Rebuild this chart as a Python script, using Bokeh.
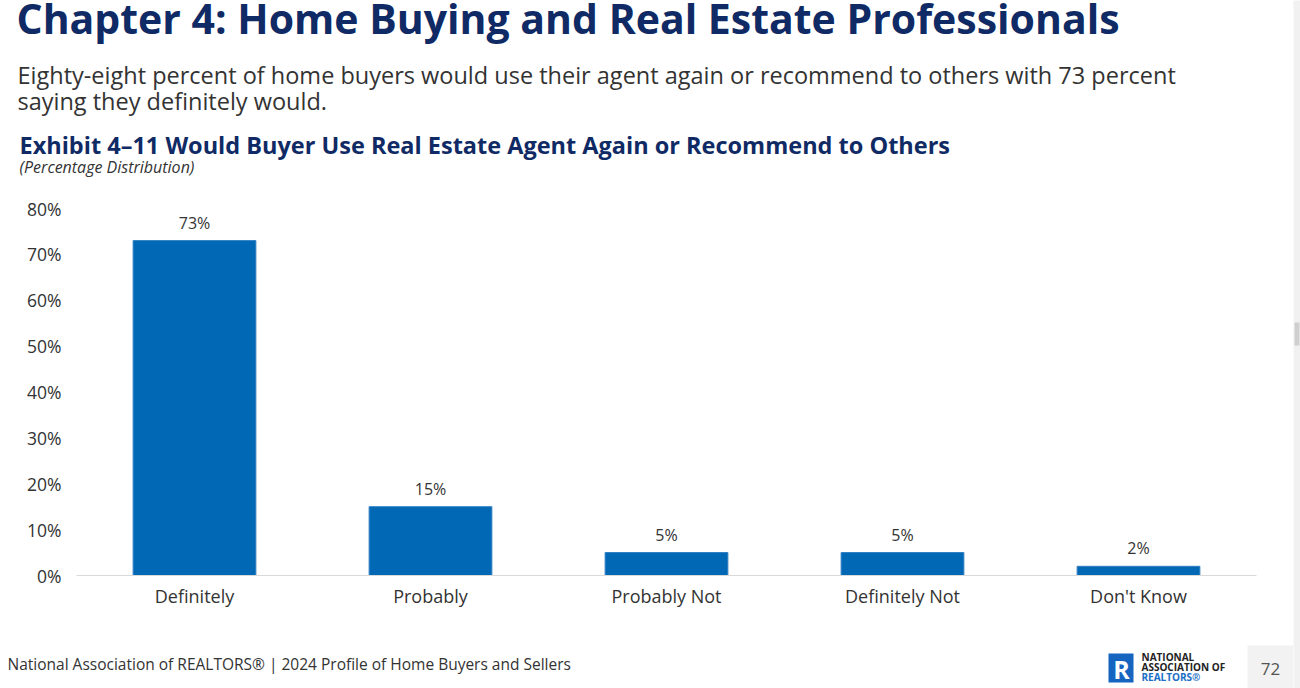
from bokeh.plotting import figure
from bokeh.layouts import column, row
from bokeh.models import (ColumnDataSource, Label, LabelSet, FixedTicker,
                          PrintfTickFormatter, BoxAnnotation, Range1d)
from bokeh.core.properties import value
from bokeh.embed import file_html
from bokeh.resources import INLINE

categories = ["Definitely", "Probably", "Probably Not", "Definitely Not", "Don't Know"]
values = [73, 15, 5, 5, 2]
value_labels = ["73%", "15%", "5%", "5%", "2%"]
y_ticks = [0, 10, 20, 30, 40, 50, 60, 70, 80]

title_text = "Chapter 4: Home Buying and Real Estate Professionals"
sub1 = "Eighty-eight percent of home buyers would use their agent again or recommend to others with 73 percent"
sub2 = "saying they definitely would."
exhibit = "Exhibit 4\u201311  Would Buyer Use Real Estate Agent Again or Recommend to Others"
note = "(Percentage Distribution)"
footer = "National Association of REALTORS\u00ae | 2024 Profile of Home Buyers and Sellers"
page_no = "72"

FONT = "Open Sans"
NAVY = "#0f2a64"
BLUE = "#0068b4"
TXT = "#333333"

W = 1293           # content width (a thin strip sits at the right)
HH = 186           # header height
FH = 58            # footer height
CH = 688 - HH - FH # chart height
FL, FR, FT, FB = 76, 1256, 208, 575


def blank(h, w=W, bg="white"):
    f = figure(width=w, height=h, x_range=Range1d(0, w), y_range=Range1d(0, h),
               output_backend="svg", toolbar_location=None,
               x_axis_location=None, y_axis_location=None, min_border=0,
               frame_align=False)
    f.outline_line_color = None
    f.background_fill_color = bg
    f.border_fill_color = bg
    f.xgrid.grid_line_color = None
    f.ygrid.grid_line_color = None
    return f


def lab(f, top, text, cx, cy, size, color=TXT, style="normal", align="left", baseline="alphabetic"):
    h = f.height
    f.add_layout(Label(x=cx, y=h - (cy - top), x_units="screen", y_units="screen",
                       text=text, text_font=FONT, text_font_size=size,
                       text_font_style=style, text_color=color,
                       text_align=align, text_baseline=baseline))


def box(f, top, l, r, t, b, color):
    h = f.height
    f.add_layout(BoxAnnotation(left=l, right=r, top=h - (t - top), bottom=h - (b - top),
                               left_units="screen", right_units="screen",
                               top_units="screen", bottom_units="screen",
                               fill_color=color, fill_alpha=1, line_color=None))


# ---------- header ----------
header = blank(HH)
lab(header, 0, title_text, 16, 17, "41px", NAVY, "bold")
lab(header, 0, sub1, 17, 74, "23.5px", TXT)
lab(header, 0, sub2, 17, 100, "23.5px", TXT)
lab(header, 0, exhibit, 19, 144, "23.5px", NAVY, "bold")
lab(header, 0, note, 19, 166, "16px", TXT, "italic")

# ---------- chart ----------
src = ColumnDataSource(dict(cat=categories, val=values, lab=value_labels))

p = figure(x_range=categories, y_range=Range1d(0, 80), width=W, height=CH,
           output_backend="svg", toolbar_location=None,
           min_border_left=FL, min_border_right=W - FR,
           min_border_top=FT - HH, min_border_bottom=(688 - FH) - FB)
p.outline_line_color = None
p.background_fill_color = "white"
p.border_fill_color = "white"
p.xgrid.grid_line_color = None
p.ygrid.grid_line_color = None

p.vbar(x="cat", top="val", width=0.52, source=src, fill_color=BLUE,
       line_color="#2f7fc4", line_width=1)

p.add_layout(LabelSet(x="cat", y="val", text="lab", source=src, text_align="center",
                      text_baseline="alphabetic", y_offset=12, text_font=value(FONT),
                      text_font_size="16px", text_color=TXT))

ya = p.yaxis[0]
ya.ticker = FixedTicker(ticks=y_ticks)
ya.formatter = PrintfTickFormatter(format="%d%%")
ya.axis_line_color = None
ya.major_tick_line_color = None
ya.minor_tick_line_color = None
ya.major_label_standoff = 9
ya.major_label_text_font = FONT
ya.major_label_text_font_size = "17.5px"
ya.major_label_text_color = TXT

xa = p.xaxis[0]
xa.axis_line_color = "#d9d9d9"
xa.axis_line_width = 1
xa.major_tick_line_color = None
xa.minor_tick_line_color = None
xa.major_label_standoff = 2
xa.major_label_text_font = FONT
xa.major_label_text_font_size = "18px"
xa.major_label_text_color = TXT

# ---------- footer ----------
FT0 = 688 - FH
foot = blank(FH)
lab(foot, FT0, footer, 7, 663, "15.5px", TXT)
box(foot, FT0, 1247, 1293, 645, 688, "#f2f2f2")
lab(foot, FT0, page_no, 1270, 668, "17px", "#555555", align="center", baseline="middle")
box(foot, FT0, 1108, 1133, 653, 682, "#1565c0")
lab(foot, FT0, "R", 1121, 668, "25px", "white", "bold", align="center", baseline="middle")
lab(foot, FT0, "NATIONAL", 1141, 656, "10px", "#222222", "bold")
lab(foot, FT0, "ASSOCIATION OF", 1141, 666, "10px", "#222222", "bold")
lab(foot, FT0, "REALTORS\u00ae", 1141, 676, "10px", "#1a6fc4", "bold")

# ---------- right strip ----------
strip = blank(688, w=1300 - W, bg="#f1f1f1")
box(strip, 0, 1, 6, 322, 345, "#cfcfcf")

layout = row(column(header, p, foot, spacing=0), strip, spacing=0)

open("out.html", "w").write(file_html(layout, INLINE))
